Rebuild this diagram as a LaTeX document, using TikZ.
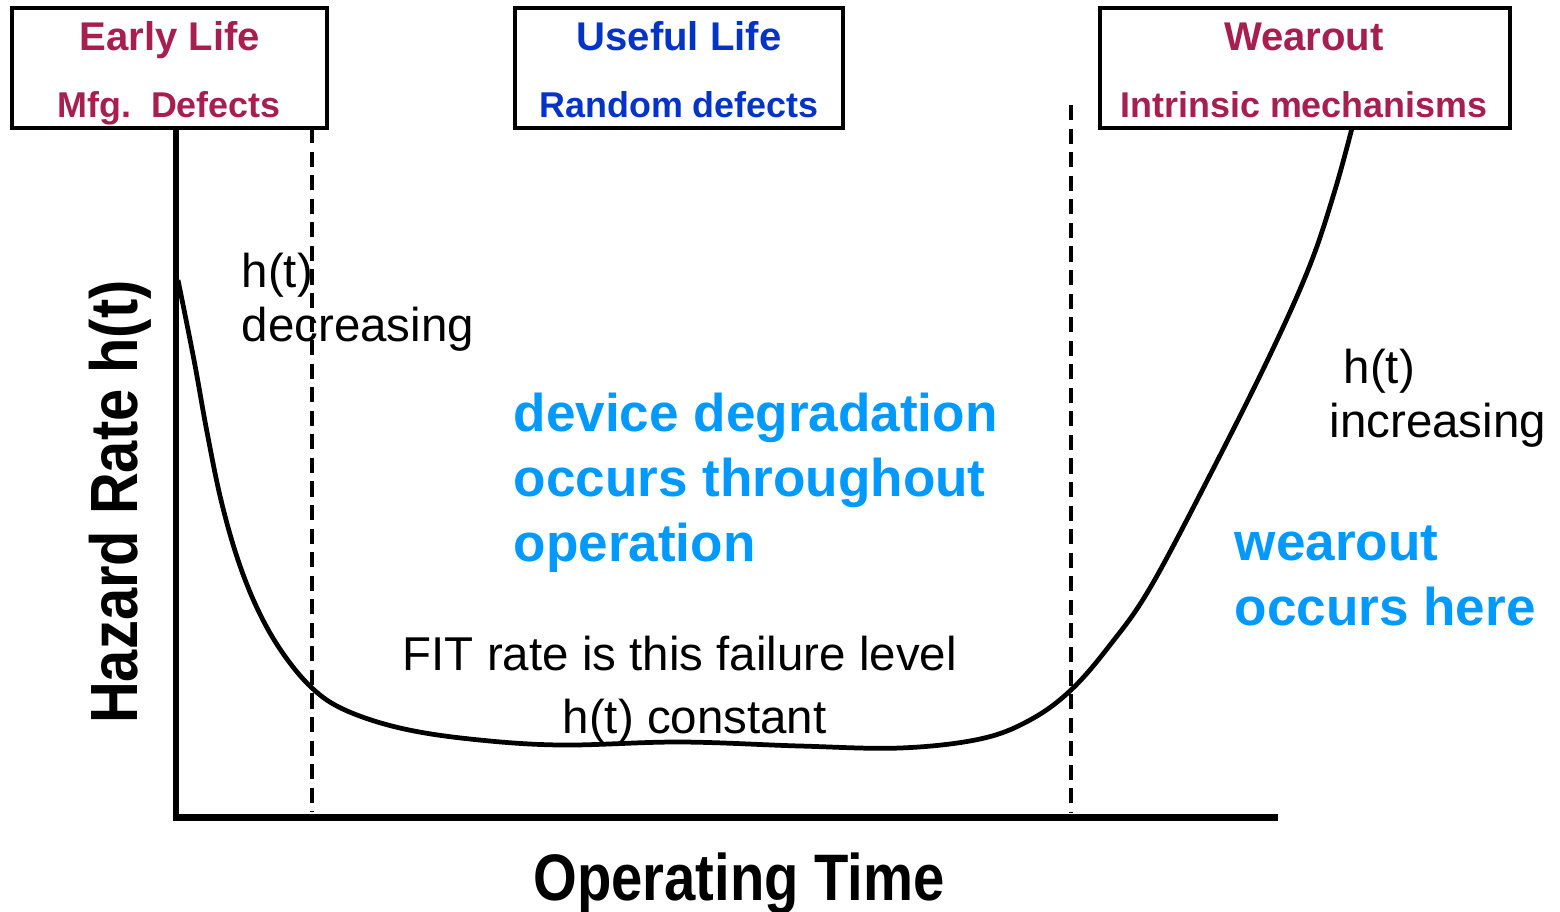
\documentclass[tikz,border=0pt]{standalone}
\usepackage{fontspec}
\setmainfont{Liberation Sans}
\definecolor{maroon}{HTML}{A61F4E}
\definecolor{deepblue}{HTML}{0433C8}
\definecolor{skyblue}{HTML}{0099FF}
\tikzset{
  phasebox/.style={draw=black, line width=0.9pt, minimum height=120*0.01cm, inner sep=0pt},
  phasetitle/.style={anchor=base, font=\fontsize{11.4pt}{13pt}\selectfont\bfseries},
  phasesub/.style={anchor=base, font=\fontsize{10.2pt}{12pt}\selectfont\bfseries},
  note/.style={anchor=base west, inner sep=0pt, font=\fontsize{13.5pt}{16pt}\selectfont},
  bignote/.style={anchor=base west, inner sep=0pt, align=left, text=skyblue,
    font=\fontsize{15.1pt}{18.35pt}\selectfont\bfseries},
  boundary/.style={line width=1.1pt, dash pattern=on 4.3pt off 2.4pt},
  hazard/.style={line width=1.35pt, line join=round}
}
\begin{document}
\begin{tikzpicture}[x=0.01cm, y=-0.01cm]
\useasboundingbox (0,0) rectangle (1560,911);

% phase boxes
\node[phasebox, minimum width=315*0.01cm] (early) at (169.5,68) {};
\node[phasebox, minimum width=328*0.01cm] (useful) at (679,68) {};
\node[phasebox, minimum width=410*0.01cm] (wear) at (1305,68) {};

\node[phasetitle, text=maroon] (earlyT) at (170,50) {Early Life};
\node[phasesub, text=maroon] (earlyS) at (169,117) {Mfg.\ \ Defects};
\node[phasetitle, text=deepblue] (usefulT) at (679,50) {Useful Life};
\node[phasesub, text=deepblue] (usefulS) at (679,117) {Random defects};
\node[phasetitle, text=maroon] (wearT) at (1304,50) {Wearout};
\node[phasesub, text=maroon] (wearS) at (1304,117) {Intrinsic mechanisms};

% axes
\coordinate (ytop) at (176,128);
\coordinate (ybot) at (176,820);
\coordinate (xstart) at (173,817);
\coordinate (xend) at (1278,817);
\draw[line width=1.7pt] (ybot) -- (ytop);
\draw[line width=2pt] (xstart) -- (xend);

% phase boundaries
\coordinate (b1top) at (312,128);
\coordinate (b1bot) at (312,812);
\coordinate (b2top) at (1071,105);
\coordinate (b2bot) at (1071,812);
\draw[boundary] (b1top) -- (b1bot);
\draw[boundary] (b2top) -- (b2bot);

% bathtub curve
\draw[hazard] plot[smooth, tension=0.6] coordinates {
  (178,280) (194,360) (207,432) (221,500) (238,560) (258,610) (282,652)
  (312,688) (345,710) (400,728) (470,739) (560,745) (680,742) (800,746)
  (900,748) (980,739) (1030,720) (1071,690) (1110,645) (1150,588)
  (1210,475) (1270,355) (1310,265) (1335,190) (1352,128)};

% annotations
\node[note] (dec1) at (241,287) {h(t)};
\node[note] (dec2) at (241,341) {decreasing};
\node[note] (inc1) at (1343,383) {h(t)};
\node[note] (inc2) at (1329,437) {increasing};
\node[note] (fit) at (402,670) {FIT rate is this failure level};
\node[note] (const) at (562,733) {h(t) constant};

\node[bignote] (degr) at (513,561) {device degradation\\occurs throughout\\operation};
\node[bignote] (wout) at (1234,625) {wearout\\occurs here};

% axis titles
\node[anchor=base, inner sep=0pt, rotate=90,
  font=\fontsize{19pt}{22pt}\selectfont\bfseries] (ylabel) at (137,502)
  {\scalebox{0.866}[1]{Hazard Rate h(t)}};
\node[anchor=base, inner sep=0pt,
  font=\fontsize{18.7pt}{22pt}\selectfont\bfseries] (xlabel) at (739,900)
  {\scalebox{0.855}[1]{Operating Time}};
\end{tikzpicture}
\end{document}
